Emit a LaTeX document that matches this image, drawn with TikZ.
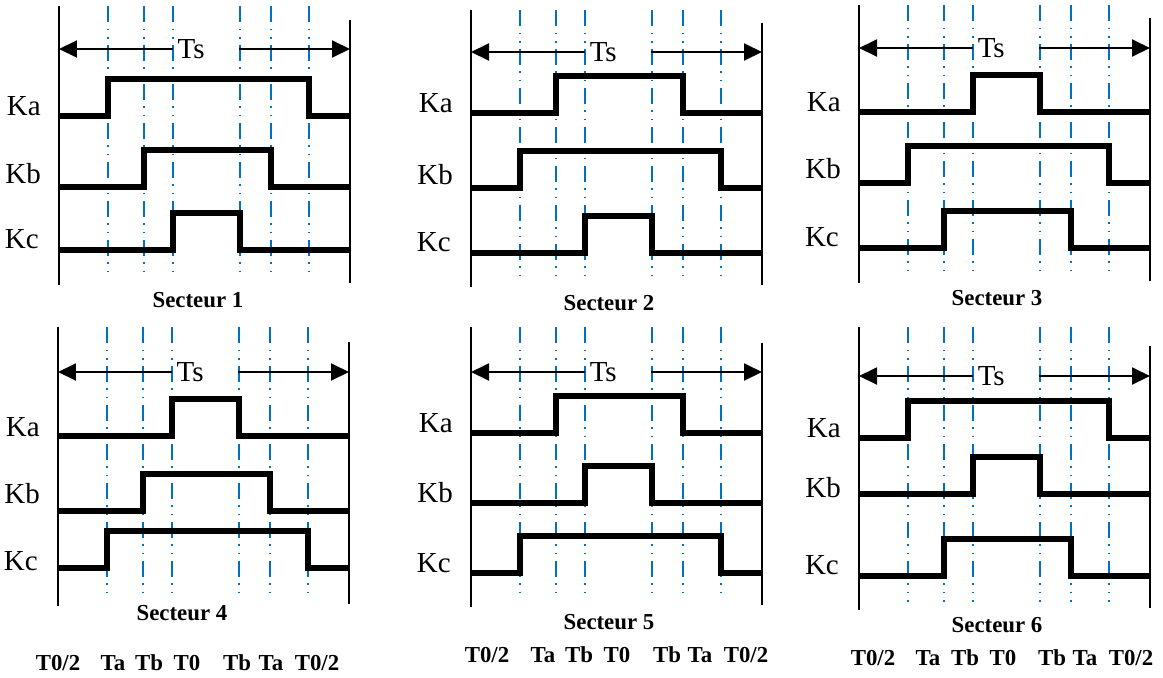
\documentclass[tikz,border=0pt]{standalone}
\usepackage{fontspec}
\setmainfont{Liberation Serif}
\usetikzlibrary{positioning,calc,arrows.meta}
\definecolor{guideblue}{RGB}{0,112,192}
% one switching signal: low level, rising edge, falling edge
\newcommand*{\pulse}[3]{%
  \draw[wave] (0,#1) -- (#2,#1) -- (#2,#1-37) -- (#3,#1-37) -- (#3,#1) -- (291,#1);}

\begin{document}
\begin{tikzpicture}[x=0.02cm,y=-0.02cm,
  wave/.style={line width=2.9pt,line join=miter},
  frame/.style={line width=1pt},
  guide/.style={guideblue,line width=1.1pt,
    dash pattern=on 0.32cm off 0.13cm on 0.035cm off 0.13cm on 0.035cm off 0.13cm},
  span/.style={line width=1.1pt,-{Triangle[length=0.36cm,width=0.34cm]}},
  sig/.style={anchor=base east,font=\fontsize{16.5}{16.5}\selectfont},
  tslabel/.style={anchor=west,inner sep=2.5pt,font=\fontsize{16.5}{16.5}\selectfont},
  sect/.style={font=\bfseries\fontsize{13}{13}\selectfont},
  tick/.style={font=\bfseries\fontsize{13}{13}\selectfont}]
\useasboundingbox (0,0) rectangle (1163,677);
% Secteur 1
\begin{scope}[shift={(59,0)}]
\draw[frame] (0,6) -- (0,285);
\draw[frame] (291,20) -- (291,283);
\foreach \e in {49,85,114,181,212,250} \draw[guide] (\e,6) -- (\e,277);
\coordinate (l1) at (0,49);
\coordinate (m1) at (180,49);
\coordinate (r1) at (291,49);
\node[tslabel] (ts1) at (114,49) {Ts};
\draw[span] (ts1.west) -- (l1);
\draw[span] (m1) -- (r1);
\node[sig] (ka1) at (-12,115) {Ka};
\node[sig] (kb1) at (-12,183) {Kb};
\node[sig] (kc1) at (-14,248) {Kc};
\pulse{116}{49}{250}
\pulse{187}{85}{212}
\pulse{250}{114}{181}
\node[sect] (s1) at (139,300) {Secteur 1};
\end{scope}
% Secteur 2
\begin{scope}[shift={(471,0)}]
\draw[frame] (0,10) -- (0,287);
\draw[frame] (291,23) -- (291,285);
\foreach \e in {49,85,114,181,212,250} \draw[guide] (\e,10) -- (\e,280);
\coordinate (l2) at (0,52);
\coordinate (m2) at (180,52);
\coordinate (r2) at (291,52);
\node[tslabel] (ts2) at (114,52) {Ts};
\draw[span] (ts2.west) -- (l2);
\draw[span] (m2) -- (r2);
\node[sig] (ka2) at (-12,112) {Ka};
\node[sig] (kb2) at (-12,184) {Kb};
\node[sig] (kc2) at (-14,251) {Kc};
\pulse{113}{85}{212}
\pulse{188}{49}{250}
\pulse{253}{114}{181}
\node[sect] (s2) at (138,303) {Secteur 2};
\end{scope}
% Secteur 3
\begin{scope}[shift={(859,0)}]
\draw[frame] (0,5) -- (0,283);
\draw[frame] (291,18) -- (291,281);
\foreach \e in {49,85,114,181,212,250} \draw[guide] (\e,5) -- (\e,275);
\coordinate (l3) at (0,48);
\coordinate (m3) at (180,48);
\coordinate (r3) at (291,48);
\node[tslabel] (ts3) at (114,48) {Ts};
\draw[span] (ts3.west) -- (l3);
\draw[span] (m3) -- (r3);
\node[sig] (ka3) at (-12,111) {Ka};
\node[sig] (kb3) at (-12,178) {Kb};
\node[sig] (kc3) at (-14,246) {Kc};
\pulse{112}{114}{181}
\pulse{183}{49}{250}
\pulse{248}{85}{212}
\node[sect] (s3) at (138,298) {Secteur 3};
\end{scope}
% Secteur 4
\begin{scope}[shift={(58,0)}]
\draw[frame] (0,327) -- (0,606);
\draw[frame] (291,342) -- (291,604);
\foreach \e in {49,85,114,181,212,250} \draw[guide] (\e,327) -- (\e,598);
\coordinate (l4) at (0,372);
\coordinate (m4) at (180,372);
\coordinate (r4) at (291,372);
\node[tslabel] (ts4) at (114,372) {Ts};
\draw[span] (ts4.west) -- (l4);
\draw[span] (m4) -- (r4);
\node[sig] (ka4) at (-12,436) {Ka};
\node[sig] (kb4) at (-12,503) {Kb};
\node[sig] (kc4) at (-14,570) {Kc};
\pulse{436}{114}{181}
\pulse{511}{85}{212}
\pulse{568}{49}{250}
\node[sect] (s4) at (124,613) {Secteur 4};
\foreach \x/\t [count=\i] in {0/{T0/2},55/Ta,91/Tb,129/T0,179/Tb,213/Ta,259/{T0/2}}
  \node[tick] (b4\i) at (\x,663) {\t};
\end{scope}
% Secteur 5
\begin{scope}[shift={(471,0)}]
\draw[frame] (0,327) -- (0,607);
\draw[frame] (291,343) -- (291,605);
\foreach \e in {49,85,114,181,212,250} \draw[guide] (\e,327) -- (\e,598);
\coordinate (l5) at (0,372);
\coordinate (m5) at (180,372);
\coordinate (r5) at (291,372);
\node[tslabel] (ts5) at (114,372) {Ts};
\draw[span] (ts5.west) -- (l5);
\draw[span] (m5) -- (r5);
\node[sig] (ka5) at (-12,432) {Ka};
\node[sig] (kb5) at (-12,502) {Kb};
\node[sig] (kc5) at (-14,572) {Kc};
\pulse{433}{85}{212}
\pulse{503}{114}{181}
\pulse{573}{49}{250}
\node[sect] (s5) at (138,622) {Secteur 5};
\foreach \x/\t [count=\i] in {16/{T0/2},72/Ta,108/Tb,146/T0,196/Tb,229/Ta,275/{T0/2}}
  \node[tick] (b5\i) at (\x,655) {\t};
\end{scope}
% Secteur 6
\begin{scope}[shift={(859,0)}]
\draw[frame] (0,327) -- (0,610);
\draw[frame] (291,346) -- (291,608);
\foreach \e in {49,85,114,181,212,250} \draw[guide] (\e,327) -- (\e,602);
\coordinate (l6) at (0,376);
\coordinate (m6) at (180,376);
\coordinate (r6) at (291,376);
\node[tslabel] (ts6) at (114,376) {Ts};
\draw[span] (ts6.west) -- (l6);
\draw[span] (m6) -- (r6);
\node[sig] (ka6) at (-12,437) {Ka};
\node[sig] (kb6) at (-12,497) {Kb};
\node[sig] (kc6) at (-14,574) {Kc};
\pulse{438}{49}{250}
\pulse{494}{114}{181}
\pulse{576}{85}{212}
\node[sect] (s6) at (138,625) {Secteur 6};
\foreach \x/\t [count=\i] in {14/{T0/2},69/Ta,106/Tb,144/T0,193/Tb,226/Ta,272/{T0/2}}
  \node[tick] (b6\i) at (\x,658) {\t};
\end{scope}
\end{tikzpicture}
\end{document}
